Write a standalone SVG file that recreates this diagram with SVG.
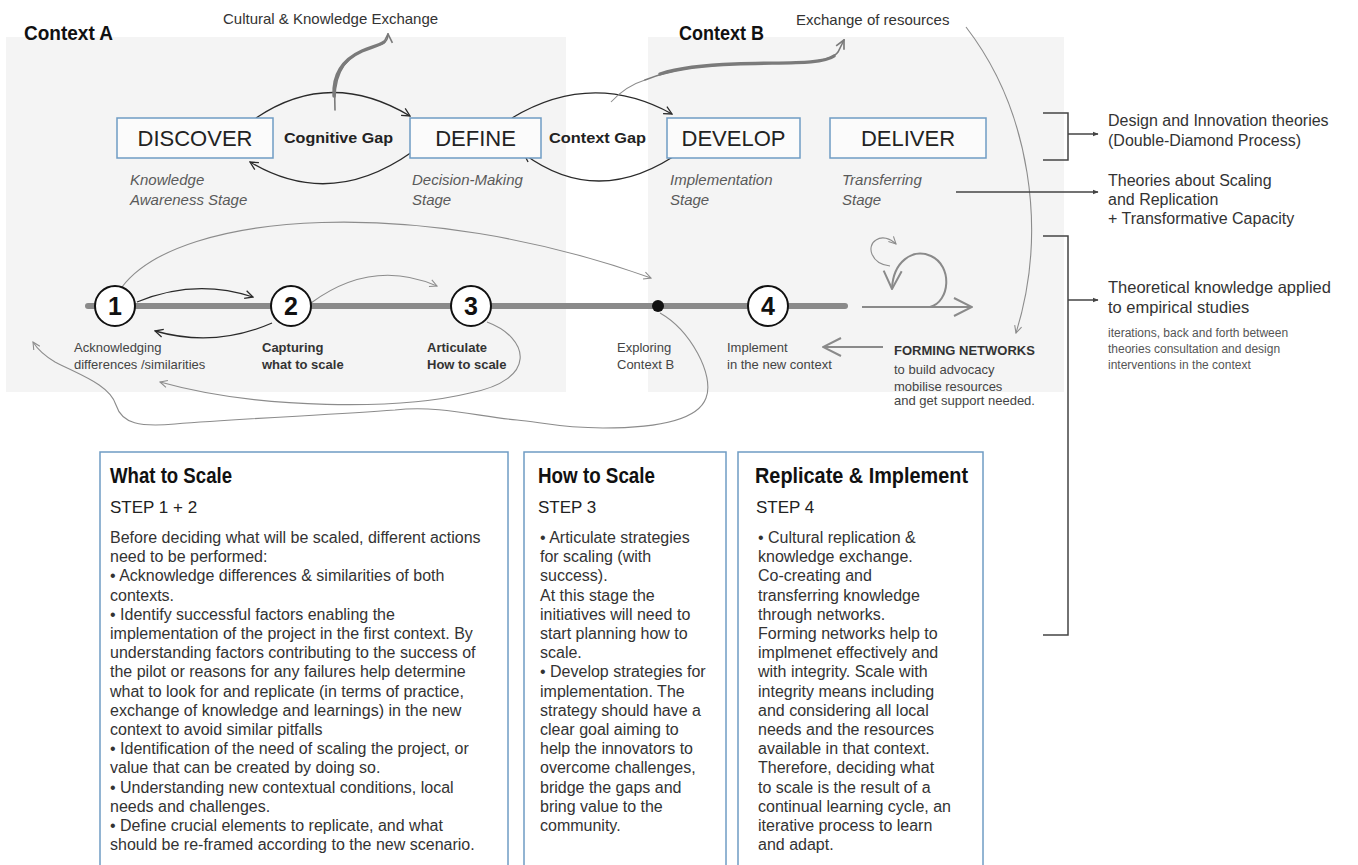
<svg xmlns="http://www.w3.org/2000/svg" width="1358" height="865" viewBox="0 0 1358 865">
<defs>
<style>
.panel{fill:#f4f4f4;stroke:none}
.box{fill:#fbfbfb;stroke:#6f9cc4;stroke-width:1.5}
.tbox{fill:#ffffff;stroke:#6f9cc4;stroke-width:1.5}
.stage{font-family:"Liberation Sans",Arial,sans-serif;font-size:22px;fill:#222;text-anchor:middle}
.gap{font-family:"Liberation Sans",Arial,sans-serif;font-size:15px;font-weight:bold;fill:#222}
.ctx{font-family:"Liberation Sans",Arial,sans-serif;font-size:20px;font-weight:bold;fill:#111}
.lab15{font-family:"Liberation Sans",Arial,sans-serif;font-size:15px;fill:#333}
.sub{font-family:"Liberation Sans",Arial,sans-serif;font-size:15px;font-style:italic;fill:#5a5a5a}
.small{font-family:"Liberation Sans",Arial,sans-serif;font-size:13px;fill:#444}
.smallb{font-family:"Liberation Sans",Arial,sans-serif;font-size:13px;font-weight:bold;fill:#333}
.num{font-family:"Liberation Sans",Arial,sans-serif;font-size:25px;font-weight:bold;fill:#111;text-anchor:middle}
.right{font-family:"Liberation Sans",Arial,sans-serif;font-size:16px;fill:#333}
.right2{font-family:"Liberation Sans",Arial,sans-serif;font-size:16.5px;fill:#333}
.tiny{font-family:"Liberation Sans",Arial,sans-serif;font-size:12px;fill:#555}
.htitle{font-family:"Liberation Sans",Arial,sans-serif;font-size:22px;font-weight:bold;fill:#111}
.step{font-family:"Liberation Sans",Arial,sans-serif;font-size:17px;fill:#222}
.body{font-family:"Liberation Sans",Arial,sans-serif;font-size:16px;fill:#333}
.circ{fill:#fff;stroke:#111;stroke-width:2}
.dark{fill:none;stroke:#2a2a2a;stroke-width:1.3}
.gray{fill:none;stroke:#8c8c8c;stroke-width:1.1}
.brush{fill:none;stroke:#7a7a7a;stroke-width:1.6;stroke-linecap:round}
.brushmid{fill:none;stroke:#7a7a7a;stroke-width:3.4;stroke-linecap:round}
.spiral{fill:none;stroke:#8a8a8a;stroke-width:2}
.brk{fill:none;stroke:#444;stroke-width:1.5}
</style>
<marker id="ahDark" viewBox="0 0 10 10" refX="9" refY="5" markerWidth="10" markerHeight="10" markerUnits="userSpaceOnUse" orient="auto"><path d="M1,1 L9,5 L1,9" fill="none" stroke="#2a2a2a" stroke-width="1.3"/></marker>
<marker id="ahGray" viewBox="0 0 10 10" refX="9" refY="5" markerWidth="9" markerHeight="9" markerUnits="userSpaceOnUse" orient="auto"><path d="M1,1 L9,5 L1,9" fill="none" stroke="#8c8c8c" stroke-width="1.2"/></marker>
<marker id="ahBrush" viewBox="0 0 10 10" refX="9" refY="5" markerWidth="11" markerHeight="11" markerUnits="userSpaceOnUse" orient="auto"><path d="M1,1 L9,5 L1,9" fill="none" stroke="#7a7a7a" stroke-width="1.5"/></marker>
<marker id="ahBig" viewBox="0 0 20 20" refX="19" refY="10" markerWidth="20" markerHeight="22" markerUnits="userSpaceOnUse" orient="auto"><path d="M1,1 L19,10 L1,19" fill="none" stroke="#8a8a8a" stroke-width="2"/></marker>
<marker id="ahTri" viewBox="0 0 10 10" refX="9" refY="5" markerWidth="6" markerHeight="6" markerUnits="userSpaceOnUse" orient="auto"><path d="M0,1 L10,5 L0,9 Z" fill="#444"/></marker>
</defs>

<rect x="0" y="0" width="1358" height="865" fill="#ffffff"/>

<g id="panels">
<rect class="panel" x="6" y="37" width="560" height="355"/>
<rect class="panel" x="648" y="37" width="416" height="355"/>
</g>

<g id="headers">
<text class="ctx" x="24" y="40" textLength="89" lengthAdjust="spacingAndGlyphs">Context A</text>
<text class="ctx" x="679" y="40" textLength="85" lengthAdjust="spacingAndGlyphs">Context B</text>
<text class="lab15" x="223" y="24">Cultural &amp; Knowledge Exchange</text>
<text class="lab15" x="796" y="25">Exchange of resources</text>
</g>

<g id="connectors">
<path class="dark" d="M256,118 Q330,68 410,116" marker-end="url(#ahDark)"/>
<path class="dark" d="M412,152 Q330,210 250,162" marker-end="url(#ahDark)"/>
<path class="dark" d="M512,118 Q592,70 672,114" marker-end="url(#ahDark)"/>
<path class="dark" d="M683,150 Q600,210 524,154" marker-end="url(#ahDark)"/>
<path class="brush" d="M335,110 C333,78 342,60 362,51 C378,44 388,46 388,34" marker-end="url(#ahBrush)"/>
<path class="brushmid" d="M334,96 C333,76 342,60 362,51 C372,47 380,45 384,42"/>
<path class="gray" d="M611,102 C622,90 632,84 645,80"/>
<path class="brush" d="M645,80 C675,68 700,66 735,64 C780,62 828,66 838,52 L844,40" marker-end="url(#ahBrush)"/>
<path class="brushmid" d="M660,74 C682,67 705,65 735,64 C780,62 822,65 834,56"/>
<path class="gray" d="M966,27 C1030,110 1048,230 1016,333" marker-end="url(#ahGray)"/>
<line x1="88" y1="306" x2="845" y2="306" stroke="#8a8a8a" stroke-width="6" stroke-linecap="round"/>
<path class="dark" d="M137,302 Q195,278 253,297" marker-end="url(#ahDark)"/>
<path class="dark" d="M272,323 Q215,348 155,331" marker-end="url(#ahDark)"/>
<path class="gray" d="M311,303 Q372,258 437,286" marker-end="url(#ahGray)"/>
<path class="gray" d="M122,287 C180,210 420,195 651,278" marker-end="url(#ahGray)"/>
<path class="gray" d="M487,322 C530,338 538,380 470,393 C400,410 260,410 160,382" marker-end="url(#ahGray)"/>
<path class="gray" d="M660,313 C690,330 715,375 706,398 C698,420 660,428 603,428 C560,428 540,422 517,420 C480,417 440,405 395,410 C330,415 250,418 175,424 C140,427 122,424 116,405 C110,385 80,375 55,362 C45,356 38,350 33,342" marker-end="url(#ahGray)"/>
<path class="spiral" d="M883,347 L823,347" marker-end="url(#ahBig)"/>
<path class="spiral" d="M862,307 L972,307" marker-end="url(#ahBig)"/>
<path class="spiral" d="M930,307 C950,302 953,266 931,256 C912,248 893,262 892,289" marker-end="url(#ahBig)"/>
<path class="gray" stroke-width="1.4" d="M890,266 C871,264 866,246 876,240 C882,236 890,238 896,244" marker-end="url(#ahGray)"/>
<path class="brk" d="M1043,113 L1068,113 L1068,160 L1043,160"/>
<path class="brk" d="M1068,134 L1098,134" marker-end="url(#ahTri)"/>
<path class="brk" d="M956,192 L1098,192" marker-end="url(#ahTri)"/>
<path class="brk" d="M1043,236 L1068,236 L1068,635 L1043,635"/>
<path class="brk" d="M1068,300 L1098,300" marker-end="url(#ahTri)"/>
</g>

<g id="discover">
<rect class="box" x="117" y="118" width="156" height="40"/>
<text class="stage" x="195" y="146">DISCOVER</text>
<text class="sub" x="130" y="185">Knowledge</text>
<text class="sub" x="130" y="205">Awareness Stage</text>
</g>
<g id="cognitive-gap">
<text class="gap" x="284" y="143" textLength="109" lengthAdjust="spacingAndGlyphs">Cognitive Gap</text>
</g>
<g id="define">
<rect class="box" x="410" y="118" width="131" height="40"/>
<text class="stage" x="475.5" y="146">DEFINE</text>
<text class="sub" x="412" y="185">Decision-Making</text>
<text class="sub" x="412" y="205">Stage</text>
</g>
<g id="context-gap">
<text class="gap" x="549" y="143" textLength="97" lengthAdjust="spacingAndGlyphs">Context Gap</text>
</g>
<g id="develop">
<rect class="box" x="667" y="118" width="133" height="40"/>
<text class="stage" x="733.5" y="146">DEVELOP</text>
<text class="sub" x="670" y="185">Implementation</text>
<text class="sub" x="670" y="205">Stage</text>
</g>
<g id="deliver">
<rect class="box" x="830" y="118" width="156" height="40"/>
<text class="stage" x="908" y="146">DELIVER</text>
<text class="sub" x="842" y="185">Transferring</text>
<text class="sub" x="842" y="205">Stage</text>
</g>

<g id="step1">
<circle class="circ" cx="115" cy="306" r="20"/>
<text class="num" x="115" y="315">1</text>
<text class="small" x="74" y="352">Acknowledging</text>
<text class="small" x="74" y="369">differences /similarities</text>
</g>
<g id="step2">
<circle class="circ" cx="291" cy="306" r="20"/>
<text class="num" x="291" y="315">2</text>
<text class="smallb" x="262" y="352">Capturing</text>
<text class="smallb" x="262" y="369">what to scale</text>
</g>
<g id="step3">
<circle class="circ" cx="471" cy="306" r="20"/>
<text class="num" x="471" y="315">3</text>
<text class="smallb" x="427" y="352">Articulate</text>
<text class="smallb" x="427" y="369">How to scale</text>
</g>
<g id="explore">
<circle cx="658" cy="306" r="6" fill="#111"/>
<text class="small" x="617" y="352">Exploring</text>
<text class="small" x="617" y="369">Context B</text>
</g>
<g id="step4">
<circle class="circ" cx="768" cy="306" r="20"/>
<text class="num" x="768" y="315">4</text>
<text class="small" x="727" y="352">Implement</text>
<text class="small" x="727" y="369">in the new context</text>
</g>
<g id="forming-networks">
<text class="smallb" x="894" y="355">FORMING NETWORKS</text>
<text class="small" x="894" y="374">to build advocacy</text>
<text class="small" x="894" y="391">mobilise resources</text>
<text class="small" x="894" y="405">and get support needed.</text>
</g>

<g id="theory-labels">
<text class="right" x="1108" y="126">Design and Innovation theories</text>
<text class="right" x="1108" y="146">(Double-Diamond Process)</text>
<text class="right" x="1108" y="186">Theories about Scaling</text>
<text class="right" x="1108" y="205">and Replication</text>
<text class="right" x="1108" y="224">+ Transformative Capacity</text>
<text class="right2" x="1108" y="293">Theoretical knowledge applied</text>
<text class="right2" x="1108" y="313">to empirical studies</text>
<text class="tiny" x="1108" y="337">iterations, back and forth between</text>
<text class="tiny" x="1108" y="353">theories consultation and design</text>
<text class="tiny" x="1108" y="369">interventions in the context</text>
</g>

<g id="what-to-scale">
<rect class="tbox" x="100" y="452" width="408" height="430"/>
<text class="htitle" x="110" y="483" textLength="122" lengthAdjust="spacingAndGlyphs">What to Scale</text>
<text class="step" x="110" y="513">STEP 1 + 2</text>
<text class="body">
<tspan x="110" y="543">Before deciding what will be scaled, different actions</tspan>
<tspan x="110" y="562.2">need to be performed:</tspan>
<tspan x="110" y="581.4">• Acknowledge differences &amp; similarities of both</tspan>
<tspan x="110" y="600.6">contexts.</tspan>
<tspan x="110" y="619.8">• Identify successful factors enabling the</tspan>
<tspan x="110" y="639">implementation of the project in the first context. By</tspan>
<tspan x="110" y="658.2">understanding factors contributing to the success of</tspan>
<tspan x="110" y="677.4">the pilot or reasons for any failures help determine</tspan>
<tspan x="110" y="696.6">what to look for and replicate (in terms of practice,</tspan>
<tspan x="110" y="715.8">exchange of knowledge and learnings) in the new</tspan>
<tspan x="110" y="735">context to avoid similar pitfalls</tspan>
<tspan x="110" y="754.2">• Identification of the need of scaling the project, or</tspan>
<tspan x="110" y="773.4">value that can be created by doing so.</tspan>
<tspan x="110" y="792.6">• Understanding new contextual conditions, local</tspan>
<tspan x="110" y="811.8">needs and challenges.</tspan>
<tspan x="110" y="831">• Define crucial elements to replicate, and what</tspan>
<tspan x="110" y="850.2">should be re-framed according to the new scenario.</tspan>
</text>
</g>

<g id="how-to-scale">
<rect class="tbox" x="524" y="452" width="202" height="430"/>
<text class="htitle" x="538" y="483" textLength="117" lengthAdjust="spacingAndGlyphs">How to Scale</text>
<text class="step" x="538" y="513">STEP 3</text>
<text class="body">
<tspan x="540" y="543">• Articulate strategies</tspan>
<tspan x="540" y="562.2">for scaling (with</tspan>
<tspan x="540" y="581.4">success).</tspan>
<tspan x="540" y="600.6">At this stage the</tspan>
<tspan x="540" y="619.8">initiatives will need to</tspan>
<tspan x="540" y="639">start planning how to</tspan>
<tspan x="540" y="658.2">scale.</tspan>
<tspan x="540" y="677.4">• Develop strategies for</tspan>
<tspan x="540" y="696.6">implementation. The</tspan>
<tspan x="540" y="715.8">strategy should have a</tspan>
<tspan x="540" y="735">clear goal aiming to</tspan>
<tspan x="540" y="754.2">help the innovators to</tspan>
<tspan x="540" y="773.4">overcome challenges,</tspan>
<tspan x="540" y="792.6">bridge the gaps and</tspan>
<tspan x="540" y="811.8">bring value to the</tspan>
<tspan x="540" y="831">community.</tspan>
</text>
</g>

<g id="replicate-implement">
<rect class="tbox" x="738" y="452" width="245" height="430"/>
<text class="htitle" x="755" y="483" textLength="213" lengthAdjust="spacingAndGlyphs">Replicate &amp; Implement</text>
<text class="step" x="756" y="513">STEP 4</text>
<text class="body">
<tspan x="758" y="543">• Cultural replication &amp;</tspan>
<tspan x="758" y="562.2">knowledge exchange.</tspan>
<tspan x="758" y="581.4">Co-creating and</tspan>
<tspan x="758" y="600.6">transferring knowledge</tspan>
<tspan x="758" y="619.8">through networks.</tspan>
<tspan x="758" y="639">Forming networks help to</tspan>
<tspan x="758" y="658.2">implmenet effectively and</tspan>
<tspan x="758" y="677.4">with integrity. Scale with</tspan>
<tspan x="758" y="696.6">integrity means including</tspan>
<tspan x="758" y="715.8">and considering all local</tspan>
<tspan x="758" y="735">needs and the resources</tspan>
<tspan x="758" y="754.2">available in that context.</tspan>
<tspan x="758" y="773.4">Therefore, deciding what</tspan>
<tspan x="758" y="792.6">to scale is the result of a</tspan>
<tspan x="758" y="811.8">continual learning cycle, an</tspan>
<tspan x="758" y="831">iterative process to learn</tspan>
<tspan x="758" y="850.2">and adapt.</tspan>
</text>
</g>
</svg>
